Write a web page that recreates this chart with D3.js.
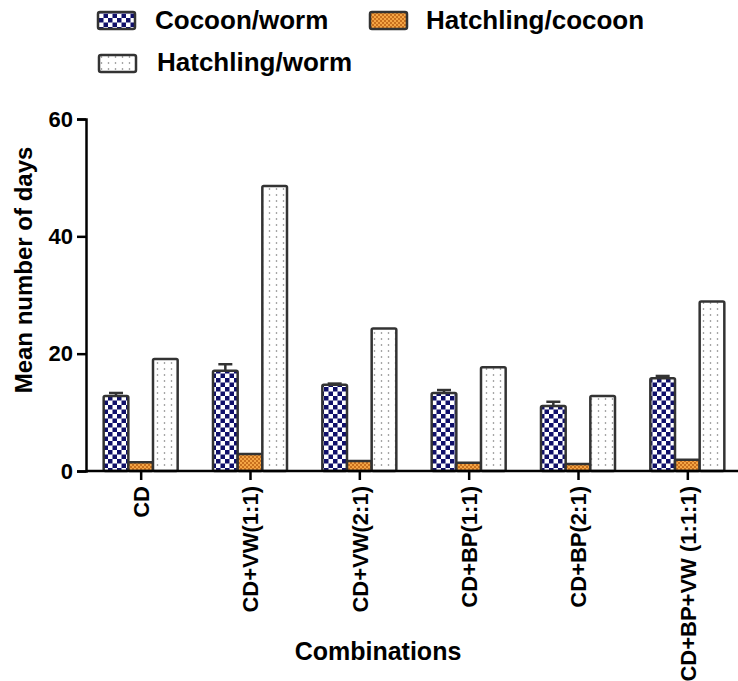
<!DOCTYPE html>
<html>
<head>
<meta charset="utf-8">
<script src="https://cdn.jsdelivr.net/npm/d3@7"></script>
<style>
  body { margin: 0; background: #fff; }
  svg { display: block; font-family: "Liberation Sans", Arial, sans-serif; font-weight: bold; }
</style>
</head>
<body>
<div id="chart"></div>
<script>
const categories = ['CD', 'CD+VW(1:1)', 'CD+VW(2:1)', 'CD+BP(1:1)', 'CD+BP(2:1)', 'CD+BP+VW (1:1:1)'];
const seriesNames = ['Cocoon/worm', 'Hatchling/cocoon', 'Hatchling/worm'];
const cocoonWorm = [12.8, 17.1, 14.7, 13.3, 11.1, 15.8];
const cocoonWormErr = [0.5, 1.1, 0.2, 0.5, 0.7, 0.4];
const hatchlingCocoon = [1.5, 2.9, 1.7, 1.4, 1.2, 1.9];
const hatchlingWorm = [19.1, 48.6, 24.3, 17.7, 12.8, 28.9];
const yTicks = [0, 20, 40, 60];

const width = 738, height = 681;
const plotLeft = 86, plotRight = 742, plotTop = 119, plotBottom = 471;

const svg = d3.select('#chart').append('svg').attr('width', width).attr('height', height);
const defs = svg.append('defs');

// checkerboard navy
const p1 = defs.append('pattern').attr('id', 'pat0').attr('patternUnits', 'userSpaceOnUse')
  .attr('width', 9).attr('height', 9);
p1.append('rect').attr('width', 9).attr('height', 9).attr('fill', '#fff');
p1.append('rect').attr('width', 4.5).attr('height', 4.5).attr('fill', '#10106a');
p1.append('rect').attr('x', 4.5).attr('y', 4.5).attr('width', 4.5).attr('height', 4.5).attr('fill', '#10106a');

// fine orange check
const p2 = defs.append('pattern').attr('id', 'pat1').attr('patternUnits', 'userSpaceOnUse')
  .attr('width', 4).attr('height', 4);
p2.append('rect').attr('width', 4).attr('height', 4).attr('fill', '#f4a545');
p2.append('rect').attr('width', 2).attr('height', 2).attr('fill', '#c8701e');
p2.append('rect').attr('x', 2).attr('y', 2).attr('width', 2).attr('height', 2).attr('fill', '#c8701e');

// dots
const p3 = defs.append('pattern').attr('id', 'pat2').attr('patternUnits', 'userSpaceOnUse')
  .attr('width', 7).attr('height', 6);
p3.append('rect').attr('width', 7).attr('height', 6).attr('fill', '#fff');
p3.append('circle').attr('cx', 3.5).attr('cy', 3).attr('r', 0.8).attr('fill', '#777');

const x = d3.scalePoint().domain(categories).range([plotLeft, plotRight]).padding(0.5);
const xs = d3.scaleBand().domain(seriesNames).range([-37, 37]);
const y = d3.scaleLinear().domain([0, 60]).range([plotBottom, plotTop]);

const series = [cocoonWorm, hatchlingCocoon, hatchlingWorm];

series.forEach((vals, si) => {
  svg.append('g').selectAll('rect')
    .data(vals)
    .enter()
    .append('rect')
    .attr('x', (_, i) => x(categories[i]) + xs(seriesNames[si]))
    .attr('y', (d) => y(d))
    .attr('width', xs.bandwidth())
    .attr('height', (d) => plotBottom - y(d))
    .attr('rx', 1.5)
    .attr('fill', `url(#pat${si})`)
    .attr('stroke', '#333')
    .attr('stroke-width', 2.5);
});

// error bars on cocoon/worm
const eb = svg.append('g').attr('stroke', '#333').attr('stroke-width', 2.5);
cocoonWorm.forEach((v, i) => {
  const cx = x(categories[i]) + xs(seriesNames[0]) + xs.bandwidth() / 2;
  eb.append('line').attr('x1', cx).attr('x2', cx).attr('y1', y(v)).attr('y2', y(v + cocoonWormErr[i]));
  eb.append('line').attr('x1', cx - 7).attr('x2', cx + 7).attr('y1', y(v + cocoonWormErr[i])).attr('y2', y(v + cocoonWormErr[i]));
});

// y axis
const yAxis = d3.axisLeft(y).tickValues(yTicks).tickSize(9).tickPadding(4);
const gy = svg.append('g').attr('transform', `translate(${plotLeft},0)`).call(yAxis);
gy.select('.domain').attr('stroke', '#000').attr('stroke-width', 2.5);
gy.selectAll('.tick line').attr('stroke', '#000').attr('stroke-width', 2.5);
gy.selectAll('text').attr('fill', '#000').attr('font-size', 22).attr('font-weight', 'bold')
  .attr('font-family', '"Liberation Sans", Arial, sans-serif');

// x axis
const xAxis = d3.axisBottom(x).tickSize(9).tickSizeOuter(0);
const gx = svg.append('g').attr('transform', `translate(0,${plotBottom})`).call(xAxis);
gx.select('.domain').attr('stroke', '#000').attr('stroke-width', 2.5).attr('d', `M${plotLeft},0H${width}`);
gx.selectAll('.tick line').attr('stroke', '#000').attr('stroke-width', 2.5);
gx.selectAll('text')
  .attr('fill', '#000').attr('font-size', 22).attr('font-weight', 'bold')
  .attr('font-family', '"Liberation Sans", Arial, sans-serif')
  .attr('text-anchor', 'end')
  .attr('transform', 'rotate(-90)')
  .attr('x', -15).attr('y', 0).attr('dy', '0.36em');

// axis titles
svg.append('text')
  .attr('transform', 'translate(32,270) rotate(-90)')
  .attr('text-anchor', 'middle')
  .attr('font-size', 24)
  .text('Mean number of days');

svg.append('text')
  .attr('x', 378).attr('y', 660)
  .attr('text-anchor', 'middle')
  .attr('font-size', 25)
  .text('Combinations');

// legend
const legendItems = [
  { name: seriesNames[0], pat: 'pat0', sx: 98, sy: 12, tx: 155, ty: 29 },
  { name: seriesNames[1], pat: 'pat1', sx: 370, sy: 12, tx: 426, ty: 29 },
  { name: seriesNames[2], pat: 'pat2', sx: 99, sy: 55, tx: 157, ty: 71 }
];
const lg = svg.append('g');
legendItems.forEach((d) => {
  lg.append('rect').attr('x', d.sx).attr('y', d.sy).attr('width', 37).attr('height', 17).attr('rx', 2)
    .attr('fill', `url(#${d.pat})`).attr('stroke', '#333').attr('stroke-width', 2.5);
  lg.append('text').attr('x', d.tx).attr('y', d.ty).attr('font-size', 26).text(d.name);
});
</script>
</body>
</html>
